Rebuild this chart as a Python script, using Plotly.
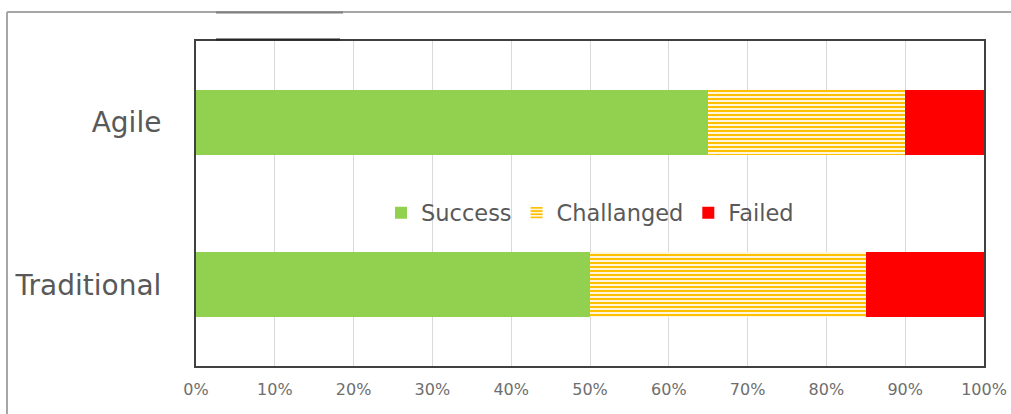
import plotly.graph_objects as go

# Project outcome shares (%) by methodology
categories = ["Traditional", "Agile"]
success = [50, 65]
challenged = [35, 25]
failed = [15, 10]

x_ticks = list(range(0, 101, 10))
x_tick_labels = [f"{v}%" for v in x_ticks]

W, H = 1011, 414
ML, MR, MT, MB = 196, 27, 41, 48
PW, PH = W - ML - MR, H - MT - MB


def px_x(px):
    return (px - ML) / PW


def px_y(py):
    return (H - MB - py) / PH


fig = go.Figure()
fig.add_trace(go.Bar(
    y=categories, x=success, name="Success", orientation="h",
    marker=dict(color="#92D050", line=dict(width=0)),
))
fig.add_trace(go.Bar(
    y=categories, x=challenged, name="Challanged", orientation="h",
    marker=dict(
        color="#FFC000", line=dict(width=0),
        pattern=dict(shape="-", fgcolor="#FFC000", bgcolor="#FFF6DC",
                     size=4, solidity=0.5, fillmode="replace"),
    ),
))
fig.add_trace(go.Bar(
    y=categories, x=failed, name="Failed", orientation="h",
    marker=dict(color="#FF0000", line=dict(width=0)),
))

shapes = [
    # outer frame (left and top edges)
    dict(type="line", xref="paper", yref="paper",
         x0=px_x(7), x1=px_x(W + 5), y0=px_y(12), y1=px_y(12),
         line=dict(color="#A6A6A6", width=2)),
    dict(type="line", xref="paper", yref="paper",
         x0=px_x(7), x1=px_x(7), y0=px_y(12), y1=px_y(H + 5),
         line=dict(color="#A6A6A6", width=2)),
    # title placeholder strokes
    dict(type="line", xref="paper", yref="paper",
         x0=px_x(216), x1=px_x(343), y0=px_y(12.5), y1=px_y(12.5),
         line=dict(color="#7F7F7F", width=2)),
    dict(type="line", xref="paper", yref="paper",
         x0=px_x(216), x1=px_x(340), y0=px_y(39.5), y1=px_y(39.5),
         line=dict(color="#262626", width=2)),
]

fig.update_layout(
    width=W, height=H,
    margin=dict(l=ML, r=MR, t=MT, b=MB, autoexpand=False),
    paper_bgcolor="white", plot_bgcolor="white",
    barmode="stack", bargap=0.6,
    font=dict(family="DejaVu Sans, sans-serif", color="#595959"),
    showlegend=True,
    legend=dict(
        orientation="h", x=0.5, xanchor="center",
        y=px_y(213), yanchor="middle",
        bgcolor="rgba(0,0,0,0)",
        font=dict(size=22.5, color="#595959"),
        traceorder="normal",
    ),
    shapes=shapes,
    xaxis=dict(
        range=[0, 100], tickvals=x_ticks, ticktext=x_tick_labels,
        automargin=False,
        showgrid=True, gridcolor="#D9D9D9", gridwidth=1,
        zeroline=False,
        showline=True, linecolor="#404040", linewidth=2, mirror=True,
        ticks="outside", ticklen=8, tickcolor="rgba(0,0,0,0)",
        tickfont=dict(size=16, color="#6E6E6E"),
    ),
    yaxis=dict(
        range=[-0.5, 1.5], automargin=False,
        showgrid=False, zeroline=False,
        showline=True, linecolor="#404040", linewidth=2, mirror=True,
        ticks="outside", ticklen=27, tickcolor="rgba(0,0,0,0)",
        tickfont=dict(size=28, color="#595959"),
    ),
)

fig.write_html("out.html")
